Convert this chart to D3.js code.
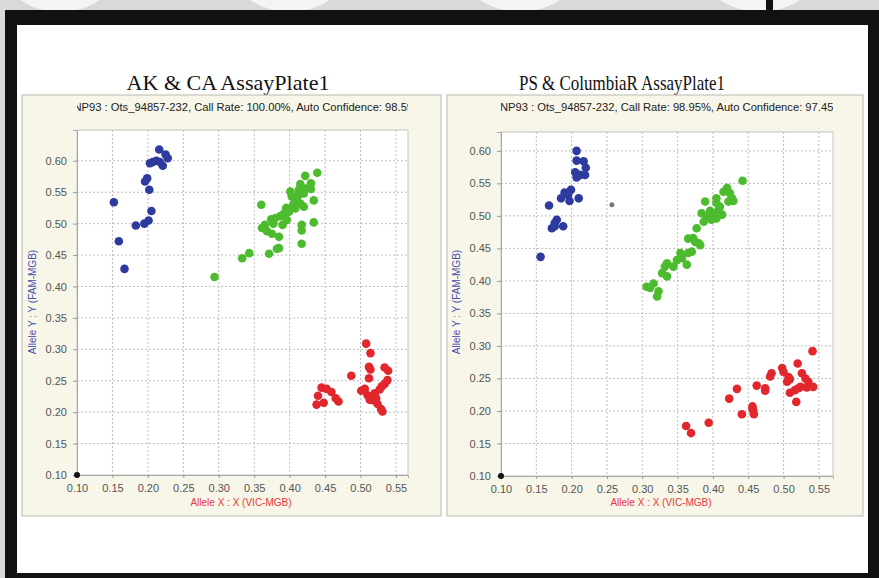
<!DOCTYPE html>
<html>
<head>
<meta charset="utf-8">
<script src="https://cdn.jsdelivr.net/npm/d3@7/dist/d3.min.js"></script>
<style>
  body { margin: 0; background: #dcdcdc; }
  svg { display: block; }
</style>
</head>
<body>
<div id="chart"></div>
<script>
// ============================================================================
// Data
// ============================================================================

const titles = ["AK & CA AssayPlate1", "PS & ColumbiaR AssayPlate1"];
const subtitles = [
  "NP93 : Ots_94857-232, Call Rate: 100.00%, Auto Confidence: 98.59%",
  "NP93 : Ots_94857-232, Call Rate: 98.95%, Auto Confidence: 97.45%"
];
const xLabel = "Allele X : X (VIC-MGB)";
const yLabel = "Allele Y : Y (FAM-MGB)";
const xTicks = [0.10, 0.15, 0.20, 0.25, 0.30, 0.35, 0.40, 0.45, 0.50, 0.55];
const yTicks = [0.10, 0.15, 0.20, 0.25, 0.30, 0.35, 0.40, 0.45, 0.50, 0.55, 0.60];

// left plate
const leftBlue = [
  [0.216,0.618],[0.225,0.610],[0.228,0.604],[0.207,0.598],[0.212,0.600],[0.217,0.598],
  [0.221,0.592],[0.203,0.596],[0.199,0.572],[0.196,0.567],[0.202,0.554],[0.152,0.534],
  [0.205,0.520],[0.201,0.505],[0.195,0.500],[0.183,0.497],[0.159,0.472],[0.167,0.428]
];
const leftGreen = [
  [0.439,0.581],[0.422,0.576],[0.430,0.564],[0.415,0.563],[0.423,0.556],[0.413,0.554],
  [0.401,0.551],[0.434,0.537],[0.360,0.530],[0.403,0.543],[0.410,0.538],[0.415,0.532],
  [0.420,0.527],[0.408,0.524],[0.399,0.519],[0.392,0.516],[0.387,0.512],[0.380,0.509],
  [0.374,0.507],[0.396,0.506],[0.377,0.500],[0.434,0.502],[0.417,0.498],[0.417,0.489],
  [0.361,0.493],[0.368,0.488],[0.375,0.484],[0.385,0.479],[0.417,0.468],[0.385,0.461],
  [0.371,0.452],[0.343,0.453],[0.333,0.445],[0.294,0.415],[0.405,0.530],[0.395,0.525],
  [0.412,0.545],[0.420,0.548],[0.390,0.498],[0.365,0.498],[0.430,0.555],[0.382,0.460]
];
const leftRed = [
  [0.508,0.309],[0.514,0.294],[0.512,0.272],[0.514,0.268],[0.534,0.271],[0.539,0.266],
  [0.487,0.258],[0.512,0.254],[0.538,0.251],[0.534,0.245],[0.530,0.241],[0.445,0.239],
  [0.452,0.237],[0.459,0.232],[0.465,0.222],[0.469,0.217],[0.440,0.226],[0.438,0.212],
  [0.448,0.215],[0.501,0.234],[0.510,0.227],[0.513,0.220],[0.517,0.219],[0.522,0.222],
  [0.524,0.213],[0.529,0.205],[0.531,0.201],[0.520,0.230],[0.527,0.236],[0.506,0.237]
];
const leftBlack = [[0.10,0.10]];
const leftGray = [];

// right plate
const rightBlue = [
  [0.207,0.600],[0.207,0.585],[0.217,0.584],[0.220,0.574],[0.205,0.567],[0.212,0.563],
  [0.219,0.563],[0.207,0.559],[0.199,0.540],[0.190,0.536],[0.195,0.532],[0.185,0.527],
  [0.197,0.523],[0.210,0.527],[0.168,0.516],[0.179,0.494],[0.176,0.489],[0.172,0.481],
  [0.188,0.484],[0.176,0.484],[0.156,0.437]
];
const rightGreen = [
  [0.442,0.554],[0.420,0.543],[0.415,0.537],[0.424,0.535],[0.427,0.527],[0.422,0.522],
  [0.429,0.523],[0.405,0.527],[0.405,0.520],[0.410,0.514],[0.408,0.509],[0.413,0.502],
  [0.405,0.496],[0.400,0.504],[0.396,0.508],[0.389,0.522],[0.384,0.504],[0.391,0.499],
  [0.398,0.494],[0.387,0.491],[0.377,0.481],[0.372,0.466],[0.365,0.465],[0.380,0.458],
  [0.375,0.460],[0.382,0.455],[0.370,0.445],[0.365,0.443],[0.354,0.443],[0.356,0.435],
  [0.349,0.432],[0.363,0.425],[0.335,0.427],[0.332,0.422],[0.344,0.422],[0.328,0.412],
  [0.335,0.407],[0.316,0.396],[0.306,0.391],[0.311,0.389],[0.323,0.384],[0.321,0.376]
];
const rightRed = [
  [0.541,0.292],[0.520,0.273],[0.498,0.266],[0.500,0.260],[0.507,0.252],[0.509,0.249],
  [0.483,0.258],[0.481,0.253],[0.526,0.258],[0.531,0.250],[0.535,0.245],[0.462,0.239],
  [0.474,0.235],[0.434,0.234],[0.524,0.237],[0.533,0.236],[0.542,0.237],[0.474,0.231],
  [0.423,0.219],[0.441,0.195],[0.456,0.207],[0.457,0.201],[0.458,0.195],[0.456,0.203],
  [0.505,0.245],[0.509,0.228],[0.516,0.232],[0.521,0.235],[0.518,0.214],[0.362,0.177],
  [0.369,0.166],[0.394,0.182]
];
const rightBlack = [[0.10,0.10]];
const rightGray = [[0.257,0.517]];

// ============================================================================
// Layout
// ============================================================================

var width = 879,
    height = 578;

var panels = [
  { box: [22, 95, 419, 421], x0: 77, x1: 408, y0: 130, y1: 475, xMax: 0.567, yMax: 0.649,
    titleX: 228, titleW: 203, subX: 73.5, yLabelX: 36, xLabelX: 241,
    blue: leftBlue, green: leftGreen, red: leftRed, black: leftBlack, gray: leftGray },
  { box: [447, 95, 416, 421], x0: 501, x1: 833, y0: 132, y1: 476, xMax: 0.570, yMax: 0.629,
    titleX: 622, titleW: 206, subX: 500, yLabelX: 460, xLabelX: 661,
    blue: rightBlue, green: rightGreen, red: rightRed, black: rightBlack, gray: rightGray }
];

var svg = d3.select("#chart")
  .append("svg")
  .attr("width", width)
  .attr("height", height);

// background decoration, frame
svg.append("rect").attr("width", width).attr("height", height).attr("fill", "#d9d9d9");
[60, 290, 520, 760].forEach((cx) => {
  svg.append("circle").attr("cx", cx).attr("cy", -60).attr("r", 72).attr("fill", "#f4f4f4");
});
svg.append("rect").attr("x", 766).attr("y", 0).attr("width", 7).attr("height", 12).attr("fill", "#111");
svg.append("rect").attr("x", 5).attr("y", 10).attr("width", 874).attr("height", 575).attr("fill", "#111");
svg.append("rect").attr("x", 17).attr("y", 25).attr("width", 851).attr("height", 548).attr("fill", "#fff");

var colors = { blue: "#2d3a9e", green: "#4dbb2e", red: "#e1262c", black: "#111", gray: "#777" };

panels.forEach((p, i) => {

  var g = svg.append("g");

  // title
  g.append("text")
    .attr("x", p.titleX)
    .attr("y", 90)
    .attr("text-anchor", "middle")
    .attr("textLength", p.titleW)
    .attr("lengthAdjust", "spacingAndGlyphs")
    .style("font-family", "'Liberation Serif', 'Times New Roman', serif")
    .style("font-size", "21px")
    .attr("fill", "#111")
    .text(titles[i]);

  // panel frame
  g.append("rect")
    .attr("x", p.box[0]).attr("y", p.box[1])
    .attr("width", p.box[2]).attr("height", p.box[3])
    .attr("fill", "#f7f6e9")
    .attr("stroke", "#b9b9b0");

  // subtitle, clipped to plot width
  g.append("clipPath").attr("id", "clip" + i)
    .append("rect")
    .attr("x", p.x0).attr("y", p.box[1])
    .attr("width", p.x1 - p.x0).attr("height", 30);

  g.append("text")
    .attr("clip-path", `url(#clip${i})`)
    .attr("x", p.subX)
    .attr("y", 111)
    .style("font-family", "'Liberation Sans', Arial, sans-serif")
    .style("font-size", "11.2px")
    .attr("fill", "#222")
    .text(subtitles[i]);

  // scales
  var x = d3.scaleLinear().domain([0.10, p.xMax]).range([p.x0, p.x1]);
  var y = d3.scaleLinear().domain([0.10, p.yMax]).range([p.y1, p.y0]);

  // plot area
  g.append("rect")
    .attr("x", p.x0).attr("y", p.y0)
    .attr("width", p.x1 - p.x0).attr("height", p.y1 - p.y0)
    .attr("fill", "#fff")
    .attr("stroke", "#c4c4c4");

  // grid
  g.selectAll("vgrid")
    .data(xTicks.slice(1))
    .enter()
    .append("line")
    .attr("x1", (d) => x(d)).attr("x2", (d) => x(d))
    .attr("y1", p.y0).attr("y2", p.y1)
    .attr("stroke", "#bdbdbd")
    .attr("stroke-dasharray", "2,2");

  g.selectAll("hgrid")
    .data(yTicks.slice(1))
    .enter()
    .append("line")
    .attr("y1", (d) => y(d)).attr("y2", (d) => y(d))
    .attr("x1", p.x0).attr("x2", p.x1)
    .attr("stroke", "#bdbdbd")
    .attr("stroke-dasharray", "2,2");

  // axes
  function style_axis(sel){
    sel.select(".domain").attr("stroke", "#a8a8a8");
    sel.selectAll(".tick line").attr("stroke", "#999");
    sel.selectAll(".tick text")
      .attr("fill", "#555")
      .style("font-family", "'Liberation Sans', Arial, sans-serif")
      .style("font-size", "11px");
  }

  g.append("g")
    .attr("transform", `translate(0,${p.y1})`)
    .call(d3.axisBottom(x).tickValues(xTicks).tickFormat(d3.format(".2f")).tickSize(3).tickPadding(6))
    .call(style_axis);

  g.append("g")
    .attr("transform", `translate(${p.x0},0)`)
    .call(d3.axisLeft(y).tickValues(yTicks).tickFormat(d3.format(".2f")).tickSize(4).tickPadding(6))
    .call(style_axis);

  // axis labels
  g.append("text")
    .attr("x", p.xLabelX)
    .attr("y", 506)
    .attr("text-anchor", "middle")
    .style("font-family", "'Liberation Sans', Arial, sans-serif")
    .style("font-size", "10px")
    .attr("fill", "#e5383c")
    .text(xLabel);

  g.append("text")
    .attr("transform", `translate(${p.yLabelX},302)rotate(-90)`)
    .attr("text-anchor", "middle")
    .style("font-family", "'Liberation Sans', Arial, sans-serif")
    .style("font-size", "10px")
    .attr("fill", "#4a4fb0")
    .text(yLabel);

  // points
  ["green", "blue", "red", "black"].forEach((k) => {
    g.selectAll("pt-" + k)
      .data(p[k])
      .enter()
      .append("circle")
      .attr("cx", (d) => x(d[0]))
      .attr("cy", (d) => y(d[1]))
      .attr("r", k == "black" ? 3 : 4.3)
      .attr("fill", colors[k]);
  });

  g.selectAll("pt-gray")
    .data(p.gray)
    .enter()
    .append("circle")
    .attr("cx", (d) => x(d[0]))
    .attr("cy", (d) => y(d[1]))
    .attr("r", 2.5)
    .attr("fill", colors.gray);
});
</script>
</body>
</html>
